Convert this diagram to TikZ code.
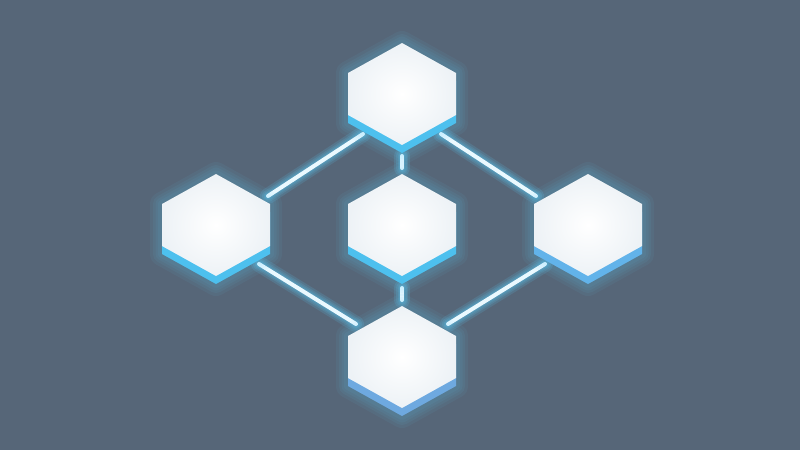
\documentclass[tikz,border=0pt]{standalone}
\usetikzlibrary{calc}

\definecolor{bgslate}{HTML}{566678}
\definecolor{glowcyan}{HTML}{5CD3FF}
\definecolor{linecore}{HTML}{EAF9FF}
\definecolor{bandcyan}{HTML}{4DC0EE}
\definecolor{bandmid}{HTML}{62B3EA}
\definecolor{bandsoft}{HTML}{6EA9E0}
\definecolor{faceedge}{HTML}{EDF2F6}

\tikzset{
  x=1pt, y=-1pt,
  pics/hexa/.style={code={
    % glow round the block
    \foreach \w in {24,18,13,8}
      \draw[glowcyan, opacity=0.06, line width=\w pt, line join=round]
        (0,-51) -- (54,-21) -- (54,29) -- (0,59) -- (-54,29) -- (-54,-21) -- cycle;
    % blue base
    \fill[#1] (0,-43) -- (54,-13) -- (54,29) -- (0,59) -- (-54,29) -- (-54,-13) -- cycle;
    % white top face
    \shade[inner color=white, outer color=faceedge]
      (0,-51) -- (54,-21) -- (54,21) -- (0,51) -- (-54,21) -- (-54,-21) -- cycle;
  }},
  link/.style={linecore, line width=4pt, line cap=round},
  linkglow/.style={glowcyan, line cap=round, opacity=0.14}
}

\newcommand{\glowlink}[2]{%
  \foreach \w in {16,12,9,6.5}
    \draw[linkglow, line width=\w pt] (#1) -- (#2);
  \draw[link] (#1) -- (#2);
}

\begin{document}
\begin{tikzpicture}
\fill[bgslate] (0,0) rectangle (800,450);
\useasboundingbox (0,0) rectangle (800,450);

% block centres
\coordinate (top) at (402,94);
\coordinate (left) at (216,225);
\coordinate (mid) at (402,225);
\coordinate (right) at (588,225);
\coordinate (bottom) at (402,357);

% connector ends
\coordinate (tl-a) at ($(top)+(-39,40)$);
\coordinate (tl-b) at ($(left)+(52,-29)$);
\coordinate (tr-a) at ($(top)+(39,40)$);
\coordinate (tr-b) at ($(right)+(-52,-29)$);
\coordinate (bl-a) at ($(left)+(43,39)$);
\coordinate (bl-b) at ($(bottom)+(-46,-33)$);
\coordinate (br-a) at ($(right)+(-43,39)$);
\coordinate (br-b) at ($(bottom)+(46,-33)$);
\coordinate (tm-a) at ($(top)+(0,62)$);
\coordinate (tm-b) at ($(mid)+(0,-57)$);
\coordinate (mb-a) at ($(mid)+(0,63)$);
\coordinate (mb-b) at ($(bottom)+(0,-57)$);

\glowlink{tl-a}{tl-b}
\glowlink{tr-a}{tr-b}
\glowlink{bl-a}{bl-b}
\glowlink{br-a}{br-b}
\glowlink{tm-a}{tm-b}
\glowlink{mb-a}{mb-b}

\pic at (top) {hexa=bandcyan};
\pic at (left) {hexa=bandcyan};
\pic at (mid) {hexa=bandcyan};
\pic at (right) {hexa=bandmid};
\pic at (bottom) {hexa=bandsoft};
\end{tikzpicture}
\end{document}
